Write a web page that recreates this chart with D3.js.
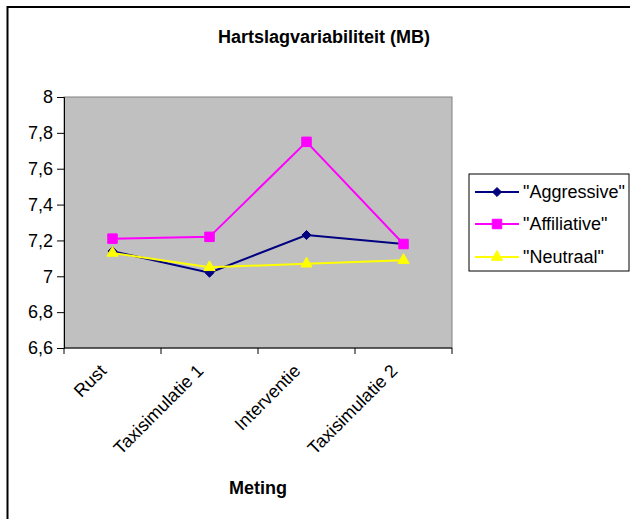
<!DOCTYPE html>
<html>
<head>
<meta charset="utf-8">
<script src="https://cdn.jsdelivr.net/npm/d3@7"></script>
<style>
  html, body { margin: 0; padding: 0; background: #fff; }
  svg { display: block; font-family: "Liberation Sans", Arial, sans-serif; }
</style>
</head>
<body>
<svg id="chart" width="630" height="519"></svg>
<script>
// Heart rate variability per measurement moment
const categories = ["Rust", "Taxisimulatie 1", "Interventie", "Taxisimulatie 2"];
const aggressive = [7.14, 7.02, 7.23, 7.18];
const affiliative = [7.21, 7.22, 7.75, 7.18];
const neutraal = [7.13, 7.05, 7.07, 7.09];
const seriesNames = ["\"Aggressive\"", "\"Affiliative\"", "\"Neutraal\""];
const yTicks = [6.6, 6.8, 7, 7.2, 7.4, 7.6, 7.8, 8];

const series = [
  { name: seriesNames[0], values: aggressive, color: "#000080", symbol: d3.symbolDiamond2, size: 52 },
  { name: seriesNames[1], values: affiliative, color: "#FF00FF", symbol: d3.symbolSquare, size: 90 },
  { name: seriesNames[2], values: neutraal, color: "#FFFF00", symbol: d3.symbolTriangle, size: 55 }
];

const svg = d3.select("#chart");
const FONT = 18;

// outer frame
svg.append("rect")
  .attr("x", 7.5).attr("y", 7)
  .attr("width", 640).attr("height", 530)
  .attr("fill", "#fff").attr("stroke", "#000").attr("stroke-width", 2);

const plot = { left: 64, top: 97, right: 452, bottom: 348 };

const x = d3.scaleBand().domain(categories).range([plot.left, plot.right]);
const y = d3.scaleLinear().domain([6.6, 8]).range([plot.bottom, plot.top]);

// plot area
svg.append("rect")
  .attr("x", plot.left).attr("y", plot.top)
  .attr("width", plot.right - plot.left).attr("height", plot.bottom - plot.top)
  .attr("fill", "#C0C0C0").attr("stroke", "#808080").attr("stroke-width", 1);

// title
svg.append("text")
  .attr("x", 324).attr("y", 43)
  .attr("text-anchor", "middle")
  .attr("font-size", FONT).attr("font-weight", "bold")
  .text("Hartslagvariabiliteit (MB)");

// y axis
const yAxis = svg.append("g")
  .attr("transform", `translate(${plot.left},0)`)
  .call(d3.axisLeft(y).tickValues(yTicks).tickSize(7).tickPadding(4)
    .tickFormat(d => String(d).replace(".", ",")));
yAxis.select(".domain").attr("stroke", "#000");
yAxis.selectAll("text").attr("font-size", FONT).attr("fill", "#000")
  .attr("font-family", "Liberation Sans, Arial, sans-serif");

// x axis: ticks on band boundaries
const xAxis = svg.append("g")
  .attr("transform", `translate(0,${plot.bottom})`);
const boundaries = categories.map(c => x(c)).concat([x.range()[1]]);
xAxis.append("line")
  .attr("x1", plot.left).attr("x2", plot.right)
  .attr("y1", 0).attr("y2", 0).attr("stroke", "#000");
xAxis.selectAll("line.tick").data(boundaries).join("line")
  .attr("class", "tick")
  .attr("x1", d => d).attr("x2", d => d)
  .attr("y1", 0).attr("y2", 6).attr("stroke", "#000");
xAxis.selectAll("text").data(categories).join("text")
  .attr("transform", d => `translate(${x(d) + x.bandwidth() / 2 - 5},${24}) rotate(-45)`)
  .attr("text-anchor", "end")
  .attr("font-size", FONT)
  .text(d => d);

// x axis title
svg.append("text")
  .attr("x", (plot.left + plot.right) / 2).attr("y", 494)
  .attr("text-anchor", "middle")
  .attr("font-size", FONT).attr("font-weight", "bold")
  .text("Meting");

// lines and markers
const cx = d => x(d) + x.bandwidth() / 2;
const line = d3.line().x((v, i) => cx(categories[i])).y(v => y(v));

series.forEach(s => {
  svg.append("path")
    .attr("d", line(s.values))
    .attr("fill", "none")
    .attr("stroke", s.color)
    .attr("stroke-width", 2);
});
series.forEach(s => {
  svg.append("g").selectAll("path").data(s.values).join("path")
    .attr("transform", (v, i) => `translate(${cx(categories[i])},${y(v)})`)
    .attr("d", d3.symbol().type(s.symbol).size(s.size))
    .attr("fill", s.color)
    .attr("stroke", s.color)
    .attr("stroke-width", 1);
});

// legend
const legend = svg.append("g");
legend.append("rect")
  .attr("x", 469).attr("y", 174)
  .attr("width", 160).attr("height", 97)
  .attr("fill", "#fff").attr("stroke", "#000").attr("stroke-width", 1);
const rowY = [192, 224, 257];
series.forEach((s, i) => {
  const g = legend.append("g");
  g.append("line")
    .attr("x1", 475).attr("x2", 519)
    .attr("y1", rowY[i]).attr("y2", rowY[i])
    .attr("stroke", s.color).attr("stroke-width", 2);
  g.append("path")
    .attr("transform", `translate(497,${rowY[i]})`)
    .attr("d", d3.symbol().type(s.symbol).size(s.size))
    .attr("fill", s.color).attr("stroke", s.color);
  g.append("text")
    .attr("x", 523).attr("y", rowY[i] + 6)
    .attr("font-size", FONT)
    .text(s.name);
});
</script>
</body>
</html>
